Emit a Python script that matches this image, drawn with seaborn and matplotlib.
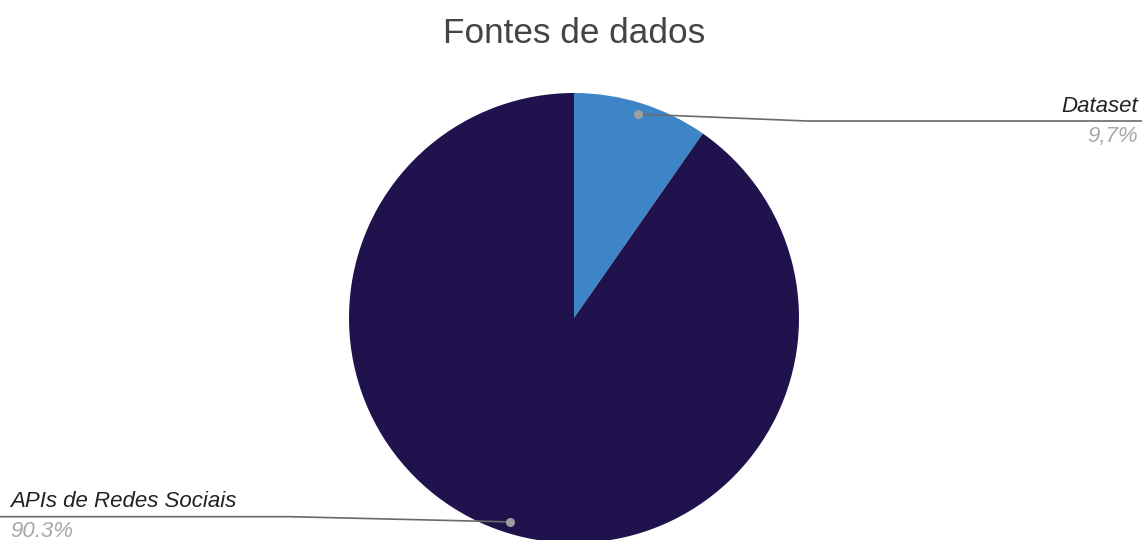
import numpy as np
import matplotlib
matplotlib.use("Agg")
import matplotlib.pyplot as plt
import seaborn as sns

# Data
categories = ["Dataset", "APIs de Redes Sociais"]
values = [9.7, 90.3]
pct_labels = ["9,7%", "90.3%"]
colors = ["#3d85c6", "#20124d"]

sns.set_theme(style="white")
plt.rcParams["font.family"] = ["Liberation Sans", "DejaVu Sans"]

W, H = 1142, 540
fig = plt.figure(figsize=(W / 100, H / 100), dpi=100)
ax = fig.add_axes([0, 0, 1, 1])

cx, cy, r = 574, 540 - 318, 225
wedges, _ = ax.pie(values, colors=colors, startangle=90, counterclock=False,
                   center=(cx, cy), radius=r,
                   wedgeprops=dict(linewidth=0, antialiased=True))
ax.set_xlim(0, W)
ax.set_ylim(0, H)
ax.set_aspect("equal")
ax.axis("off")

line_c = "#6a6a6a"
dot_c = "#9e9e9e"
fs = 16

def dot_pos(w, frac=0.95):
    ang = np.deg2rad((w.theta1 + w.theta2) / 2)
    return cx + frac * r * np.cos(ang), cy + frac * r * np.sin(ang)

# Dataset label (right)
dx, dy = dot_pos(wedges[0])
ax.plot([dx, 807, W], [dy, 419, 419], color=line_c, lw=1.2, zorder=3, solid_capstyle="butt")
ax.plot([dx], [dy], "o", color=dot_c, ms=5.5, zorder=4)
ax.text(1138, 428, categories[0], ha="right", va="baseline", fontsize=fs,
        style="italic", color="#222222")
ax.text(1138, 398, pct_labels[0], ha="right", va="baseline", fontsize=fs,
        style="italic", color="#a8a8a8")

# APIs label (left)
ax_, ay_ = dot_pos(wedges[1])
ax.plot([0, 290, ax_], [23.3, 23.3, ay_], color=line_c, lw=1.2, zorder=3, solid_capstyle="butt")
ax.plot([ax_], [ay_], "o", color=dot_c, ms=5.5, zorder=4)
ax.text(10, 33, categories[1], ha="left", va="baseline", fontsize=fs,
        style="italic", color="#222222")
ax.text(10, 3, pct_labels[1], ha="left", va="baseline", fontsize=fs,
        style="italic", color="#a8a8a8")

ax.text(574, 540 - 43, "Fontes de dados", ha="center", va="baseline",
        fontsize=25.3, color="#444444")

fig.savefig("out.png", dpi=100)
